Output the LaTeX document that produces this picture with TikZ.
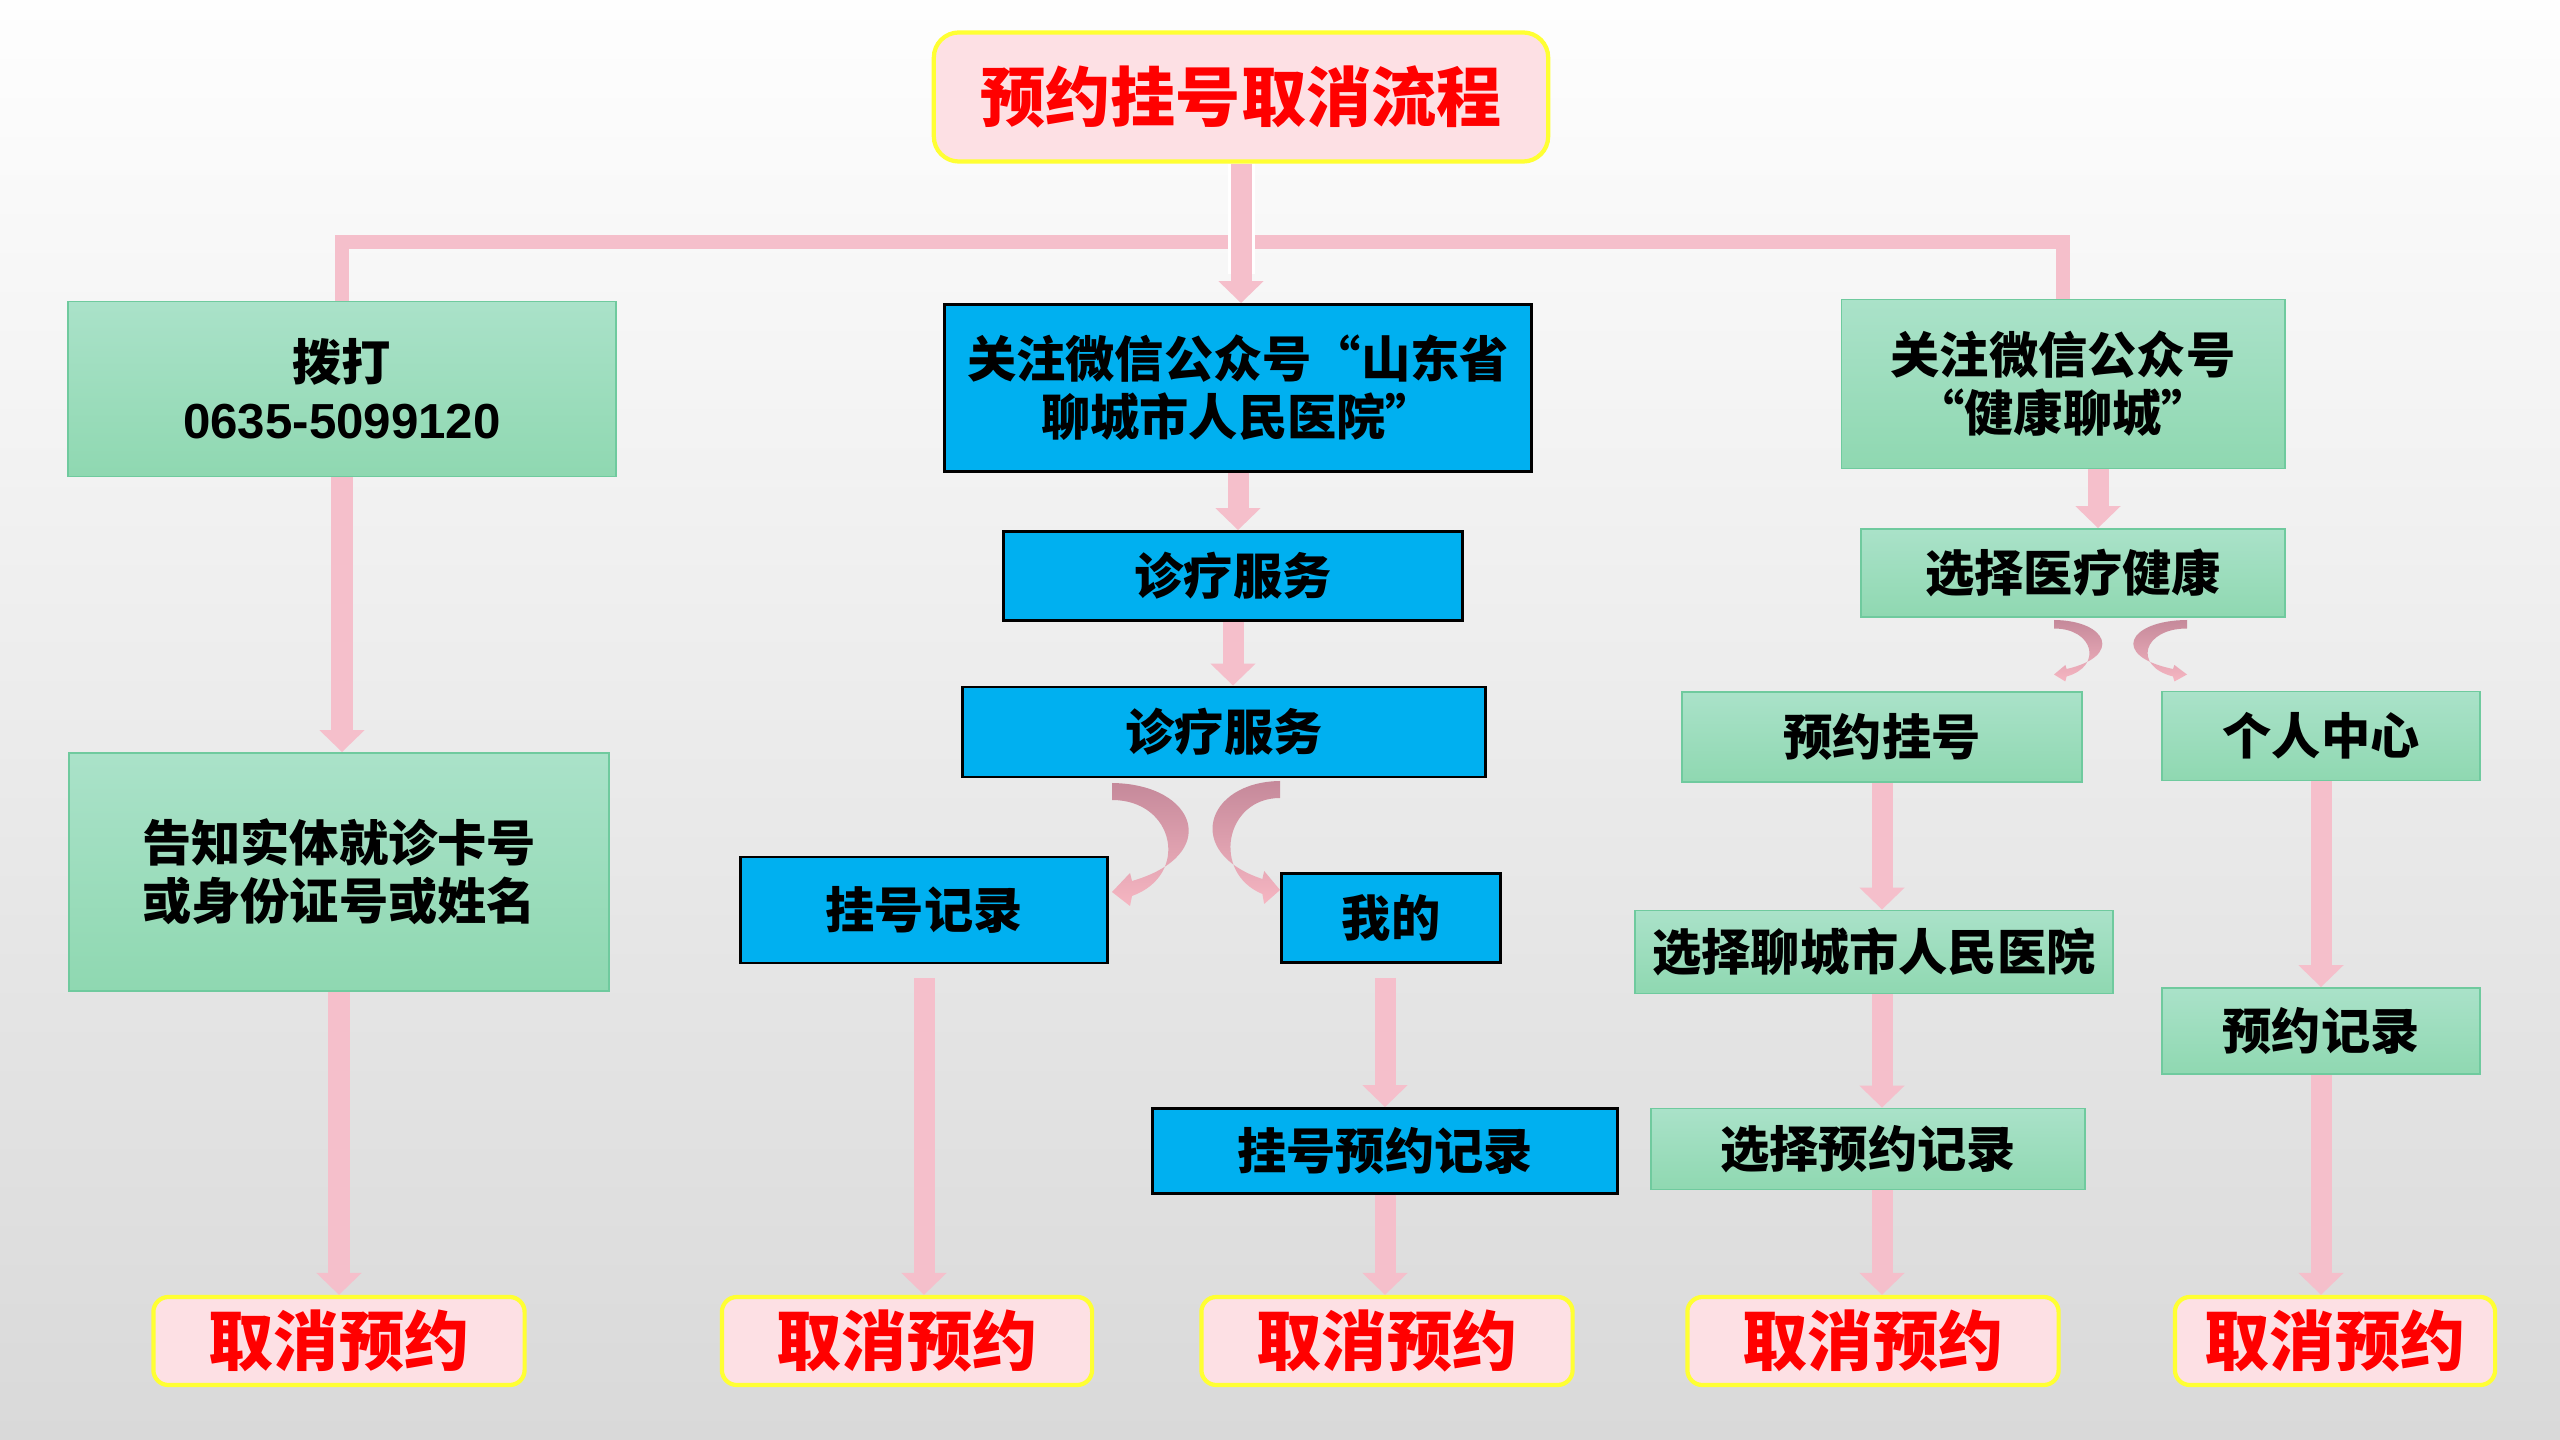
\documentclass[tikz,border=0pt]{standalone}
\usepackage{fontspec}
\setmainfont{Noto Sans CJK SC}
\newfontfamily\numfont{Liberation Sans}
\usetikzlibrary{arrows.meta}

\definecolor{bgtop}{HTML}{FEFEFE}
\definecolor{bgmid}{HTML}{F4F4F4}
\definecolor{bgbot}{HTML}{D9D9D9}
\definecolor{greentop}{HTML}{AAE2C9}
\definecolor{greenbot}{HTML}{8FD8B1}
\definecolor{greenline}{HTML}{6FCA9E}
\definecolor{skyblue}{HTML}{00B0F0}
\definecolor{softpink}{HTML}{FDE0E4}
\definecolor{brightyellow}{HTML}{FFFF33}
\definecolor{flowpink}{HTML}{F5BFCB}
\definecolor{bendtop}{HTML}{C5899A}
\definecolor{bendbot}{HTML}{F6B6C2}

\newcommand\boxfont{\fontsize{14}{16.5}\selectfont\bfseries}
\newcommand\cancelfont{\fontsize{18.5}{20}\selectfont\bfseries}
\newcommand\headfont{\fontsize{18.5}{22}\selectfont\bfseries}

% curved block arrow: position, xscale, yscale
\newcommand\bendarrow[3]{%
    \shade[top color=bendtop, bottom color=bendbot, shift={#1}, xscale=#2, yscale=#3]
        (0,0) .. controls (85,1) and (110,72) .. (20,98) -- (18,90) -- (0,109)
        -- (18,123) -- (20,113) .. controls (78,92) and (63,17) .. (0,17) -- cycle;}

\tikzset{
    greenbox/.style={shade, top color=greentop, bottom color=greenbot, draw=greenline,
        line width=0.5pt, align=center, font=\boxfont, inner sep=0pt},
    bluebox/.style={fill=skyblue, draw=black, line width=0.8pt, align=center,
        font=\boxfont, inner sep=0pt},
    cancelbox/.style={fill=softpink, draw=brightyellow, line width=1.2pt,
        rounded corners=0.15cm, font=\cancelfont, text=red, inner sep=0pt},
    flow/.style={draw=flowpink, line width=0.21cm,
        -{Triangle[width=0.44cm,length=0.22cm]}},
    busline/.style={draw=flowpink, line width=0.14cm}
}

\begin{document}
\begin{tikzpicture}[x=0.01cm, y=-0.01cm]
    % Background
    \useasboundingbox (0,0) rectangle (2560,1440);
    \shade[top color=bgtop, middle color=bgmid, bottom color=bgbot] (0,0) rectangle (2560,1440);

    % Title
    \node[cancelbox, font=\headfont, rounded corners=0.25cm, minimum width=6.14cm,
        minimum height=1.29cm] (title) at (1241,97) {预约挂号取消流程};

    % Phone column
    \node[greenbox, minimum width=5.47cm, minimum height=1.75cm] (call) at (342,389)
        {拨打\\{\numfont\bfseries 0635-5099120}};
    \node[greenbox, minimum width=5.40cm, minimum height=2.38cm] (tell) at (339,872)
        {告知实体就诊卡号\\或身份证号或姓名};

    % Hospital account column
    \node[bluebox, minimum width=5.87cm, minimum height=1.67cm] (wechatA) at (1238,388)
        {关注微信公众号“山东省\\聊城市人民医院”};
    \node[bluebox, minimum width=4.59cm, minimum height=0.89cm] (serviceA) at (1233,576) {诊疗服务};
    \node[bluebox, minimum width=5.23cm, minimum height=0.90cm] (serviceB) at (1224,732) {诊疗服务};
    \node[bluebox, minimum width=3.66cm, minimum height=1.06cm] (record) at (924,910) {挂号记录};
    \node[bluebox, minimum width=2.19cm, minimum height=0.89cm] (mine) at (1391,918) {我的};
    \node[bluebox, minimum width=4.64cm, minimum height=0.85cm] (regrec) at (1385,1151) {挂号预约记录};

    % Health account column
    \node[greenbox, minimum width=4.43cm, minimum height=1.69cm] (wechatB) at (2063,384)
        {关注微信公众号\\“健康聊城”};
    \node[greenbox, minimum width=4.24cm, minimum height=0.88cm] (health) at (2073,573) {选择医疗健康};
    \node[greenbox, minimum width=4.00cm, minimum height=0.90cm] (book) at (1882,737) {预约挂号};
    \node[greenbox, minimum width=3.18cm, minimum height=0.89cm] (center) at (2321,736) {个人中心};
    \node[greenbox, minimum width=4.78cm, minimum height=0.83cm] (hosp) at (1874,952) {选择聊城市人民医院};
    \node[greenbox, minimum width=4.34cm, minimum height=0.81cm] (choose) at (1868,1149) {选择预约记录};
    \node[greenbox, minimum width=3.18cm, minimum height=0.86cm] (myrec) at (2321,1031) {预约记录};

    % Cancel boxes
    \node[cancelbox, minimum width=3.71cm, minimum height=0.88cm] (cancelA) at (339,1341) {取消预约};
    \node[cancelbox, minimum width=3.70cm, minimum height=0.88cm] (cancelB) at (907,1341) {取消预约};
    \node[cancelbox, minimum width=3.71cm, minimum height=0.88cm] (cancelC) at (1387,1341) {取消预约};
    \node[cancelbox, minimum width=3.71cm, minimum height=0.88cm] (cancelD) at (1873,1341) {取消预约};
    \node[cancelbox, minimum width=3.20cm, minimum height=0.88cm] (cancelE) at (2335,1341) {取消预约};

    % Branch line
    \coordinate (bus) at (1241,242);
    \draw[busline] (call.north) |- (bus) -| (wechatB.north);
    \draw[white, line width=0.27cm] (title.south) -- ++(0,110);
    \draw[flow] (title.south) -- (title.south |- wechatA.north);

    % Phone arrows
    \draw[flow] (call.south) -- (call.south |- tell.north);
    \draw[flow] (tell.south) -- (tell.south |- cancelA.north);

    % Hospital account arrows
    \draw[flow] (wechatA.south) -- (wechatA.south |- serviceA.north);
    \draw[flow] (serviceA.south) -- (serviceA.south |- serviceB.north);
    \bendarrow{(1112,783)}{1}{1}
    \bendarrow{(1280,781)}{-0.88}{1}
    \draw[flow, shorten <=0.14cm] (record.south) -- (record.south |- cancelB.north);
    \draw[flow, shorten <=0.14cm] (regrec.north |- mine.south) -- (regrec.north);
    \draw[flow] (regrec.south) -- (regrec.south |- cancelC.north);

    % Health account arrows
    \draw[flow] (2098,0 |- wechatB.south) -- (2098,0 |- health.north);
    \bendarrow{(2054,620)}{0.63}{0.5}
    \bendarrow{(2187,620)}{-0.7}{0.5}
    \draw[flow] (book.south) -- (book.south |- hosp.north);
    \draw[flow] (book.south |- hosp.south) -- (book.south |- choose.north);
    \draw[flow] (book.south |- choose.south) -- (book.south |- cancelD.north);
    \draw[flow] (center.south) -- (center.south |- myrec.north);
    \draw[flow] (myrec.south) -- (myrec.south |- cancelE.north);
\end{tikzpicture}
\end{document}
